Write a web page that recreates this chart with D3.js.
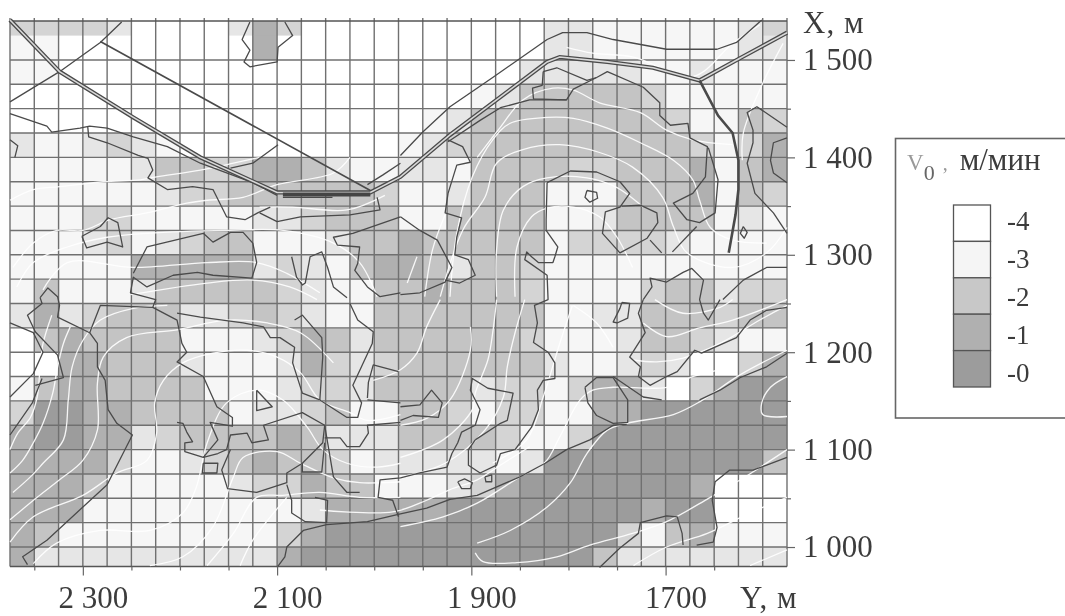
<!DOCTYPE html>
<html>
<head>
<meta charset="utf-8">
<script src="https://cdn.jsdelivr.net/npm/d3@7/dist/d3.min.js"></script>
<style>
  html, body { margin: 0; padding: 0; background: #fff; }
  svg { display: block; filter: blur(0.45px); }
  text { font-family: "Liberation Serif", serif; fill: #3c3c3c; }
</style>
</head>
<body>
<svg id="chart" width="1065" height="616"></svg>
<script>
// grid cell classes, top row first, west to east (Y falls left to right)
const cellRows = [
  "3333200002530000 0000002211111123",
  "1100000000500000 0000002211111122",
  "1100000000000000 0000022222112111",
  "0000000000000000 0001244444311111",
  "0000000000000000 0124444444431143",
  "2112321000000000 1234444444443135",
  "1111124433554211 2214444334445145",
  "1111112334444443 1124441114445143",
  "1113311111223444 1144441124444121",
  "1112312344111244 5444441333321111",
  "1111155555232145 5424431111111111",
  "1411124444432114 4544431111344233",
  "2523444223432114 4444441122444344",
  "0454444111235424 4444431112443211",
  "0055444211125323 4444442112320035",
  "1455444411123324 4442331355203566",
  "3665544441223411 4431331155666666",
  "5665523444454222 4444311366666666",
  "5555311234544312 2222126666666664",
  "5554111112335441 1123566666665000",
  "5551111111112555 5566666666566000",
  "5411111111135666 6666666663145111",
  "5222222222256666 6666666642222222"
];
const cellGreys = ["#ffffff", "#f6f6f6", "#e6e6e6", "#d4d4d4", "#c4c4c4", "#b0b0b0", "#9c9c9c"];

// cell edges in metres
const yEdges = d3.range(2375, 1574, -25);
const xEdges = [1540, 1525, 1500, 1475, 1450, 1425, 1400, 1375, 1350, 1325, 1300, 1275, 1250, 1225, 1200, 1175, 1150, 1125, 1100, 1075, 1050, 1025, 1000, 980];

// axis ticks
const yTicks = d3.range(2350, 1600, -50);
const xTicks = d3.range(1500, 950, -50);
const yLabels = { 2300: "2 300", 2100: "2 100", 1900: "1 900", 1700: "1700" };
const xLabels = { 1500: "1 500", 1400: "1 400", 1300: "1 300", 1200: "1 200", 1100: "1 100", 1000: "1 000" };

const legendLevels = ["-4", "-3", "-2", "-1", "-0"];
const legendGreys = ["#ffffff", "#f5f5f5", "#c8c8c8", "#b0b0b0", "#9c9c9c"];

// roads, [Y, X] in metres
const mainRoad = [[2375,1541],[2324,1488],[2248,1441],[2179,1400],[2100,1364],[2004,1364],[1973,1380],[1922,1423],[1874,1459],[1822,1498],[1809,1503],[1760,1498],[1713,1492],[1665,1479],[1623,1502],[1575,1528]];
const thickRoad = [[2094,1362],[2004,1362]];
const sideRoad = [[1665,1479],[1646,1443],[1631,1425],[1625,1397],[1625,1367],[1628,1341],[1635,1302]];
const upperRoad = [[2282,1519],[2004,1366]];

// speed class boundaries, [Y, X] in metres
const darkLines = [
  [[1973,1402],[1950,1426],[1922,1452],[1878,1482],[1822,1521],[1806,1528],[1781,1528],[1754,1521],[1699,1511],[1647,1511],[1627,1518],[1601,1541]],
  [[2260,1539],[2282,1518],[2324,1488],[2375,1457]],
  [[2375,1445],[2337,1432],[2332,1426],[2303,1430],[2293,1432],[2275,1430],[2248,1421],[2213,1411],[2179,1394],[2125,1374],[2100,1361]],
  [[2295,1432],[2294,1421],[2275,1415],[2243,1402],[2233,1399],[2228,1387],[2233,1379],[2213,1367],[2187,1370],[2166,1367],[2152,1339],[2133,1336],[2120,1343],[2107,1349]],
  [[2118,1343],[2100,1334],[2076,1339],[2025,1341],[1994,1346],[1997,1359]],
  [[2094,1359],[2043,1359]],
  [[2148,1389],[2125,1394],[2099,1413]],
  [[2007,1372],[1991,1382],[1973,1394]],
  [[2128,1539],[2136,1521],[2128,1510],[2134,1498],[2128,1493],[2100,1498],[2099,1513],[2084,1525],[2092,1539]],
  [[2375,1418],[2367,1412],[2370,1400]],
  [[2301,1319],[2282,1329],[2274,1338],[2264,1333],[2259,1308],[2275,1313],[2296,1307],[2301,1319]],
  [[2248,1281],[2234,1308],[2176,1322],[2166,1313],[2148,1323],[2135,1323],[2125,1312],[2121,1292],[2126,1276],[2166,1279],[2182,1282],[2207,1279],[2234,1267],[2248,1277],[2251,1261],[2225,1254],[2228,1246]],
  [[2085,1298],[2080,1277],[2074,1269],[2071,1271],[2066,1298],[2054,1303],[2048,1287],[2042,1267],[2028,1256]],
  [[1973,1339],[2022,1322],[2042,1318],[2038,1310],[2015,1308],[2017,1291],[2020,1284],[2007,1267],[1994,1257],[1973,1261]],
  [[1973,1339],[1953,1325],[1935,1315],[1920,1287],[1927,1272],[1953,1261],[1973,1259]],
  [[1924,1418],[1909,1411],[1901,1395],[1915,1392],[1924,1363],[1927,1343],[1910,1338],[1915,1318],[1917,1300],[1903,1295],[1896,1279],[1912,1271],[1927,1274]],
  [[1924,1416],[1891,1438],[1870,1451],[1840,1459],[1802,1459],[1795,1470],[1771,1482],[1760,1488],[1723,1472],[1706,1456],[1706,1443],[1695,1433],[1677,1435],[1675,1420],[1657,1411],[1659,1380],[1672,1363],[1692,1353],[1678,1336],[1665,1333],[1649,1343],[1646,1377],[1656,1410]],
  [[1826,1488],[1812,1492],[1781,1479],[1771,1482]],
  [[1826,1488],[1827,1474],[1837,1471],[1836,1460],[1802,1459]],
  [[1822,1374],[1798,1386],[1771,1385],[1747,1375],[1737,1363],[1747,1349],[1762,1344],[1765,1322],[1747,1302],[1719,1317],[1708,1333],[1709,1343],[1726,1351],[1745,1350]],
  [[1716,1315],[1704,1302]],
  [[1693,1303],[1668,1329]],
  [[1822,1374],[1823,1336],[1823,1325],[1811,1308],[1814,1298],[1816,1292],[1831,1292],[1838,1298],[1843,1303],[1845,1295],[1822,1279],[1821,1254],[1835,1248],[1832,1230],[1836,1210],[1821,1200],[1814,1189],[1814,1173],[1826,1171],[1832,1161],[1831,1141],[1838,1123],[1855,1100],[1870,1096],[1874,1084],[1891,1076],[1903,1084],[1903,1100],[1896,1110]],
  [[1896,1110],[1870,1127],[1863,1130],[1857,1158],[1883,1163],[1899,1173],[1901,1161],[1891,1141],[1896,1125],[1910,1118],[1914,1107],[1920,1096],[1925,1082],[1953,1076],[1973,1071],[1994,1069],[1996,1051],[1981,1048],[1975,1031]],
  [[2100,979],[2092,990],[2090,1000],[2073,1017],[2049,1023],[2007,1026],[1973,1034],[1946,1040],[1922,1049],[1894,1053],[1850,1072],[1824,1086],[1802,1100],[1778,1110],[1754,1125],[1740,1126]],
  [[1783,1164],[1771,1174],[1754,1174],[1739,1151],[1739,1128],[1754,1127],[1771,1135],[1780,1148],[1783,1164]],
  [[1754,1175],[1723,1154],[1704,1151]],
  [[1665,1151],[1644,1161],[1623,1174],[1596,1185],[1575,1199]],
  [[1723,1254],[1728,1240],[1721,1220],[1737,1195],[1726,1185],[1728,1175],[1716,1166],[1699,1175],[1688,1180],[1670,1202],[1663,1199],[1627,1215],[1613,1233],[1596,1243],[1575,1246]],
  [[1723,1254],[1714,1267],[1716,1276],[1699,1272],[1682,1282],[1673,1286],[1661,1274],[1665,1254],[1661,1240],[1656,1233],[1644,1254]],
  [[1641,1254],[1620,1274],[1596,1287],[1575,1287]],
  [[1575,1431],[1606,1452],[1616,1446],[1610,1428],[1610,1415],[1616,1394],[1608,1363],[1589,1343],[1575,1322]],
  [[1575,1420],[1589,1415],[1592,1397],[1589,1384],[1575,1374]],
  [[1781,1366],[1771,1364],[1770,1358],[1778,1354],[1783,1359],[1781,1366]],
  [[1620,1329],[1616,1323],[1619,1317],[1623,1322],[1620,1329]],
  [[1745,1251],[1737,1250],[1739,1235],[1750,1230],[1754,1231],[1747,1245],[1745,1251]],
  [[1768,979],[1747,999],[1728,1014],[1726,1025],[1699,1032],[1688,1031],[1683,1014],[1682,1002]],
  [[1668,1002],[1651,1005],[1647,1020],[1652,1048],[1649,1067],[1634,1079],[1610,1079],[1596,1084],[1575,1092]],
  [[1914,1067],[1907,1070],[1899,1066],[1901,1060],[1910,1060],[1914,1067]],
  [[1886,1072],[1879,1074],[1879,1067],[1885,1067],[1886,1072]],
  [[1973,1144],[1953,1146],[1941,1161],[1930,1148],[1934,1133],[1960,1135],[1973,1130]],
  [[2344,1256],[2336,1266],[2326,1257],[2324,1248],[2326,1236],[2293,1220],[2285,1209],[2285,1185],[2277,1171],[2274,1141],[2265,1127],[2249,1115],[2275,1064],[2337,1007],[2362,990],[2357,982]],
  [[2344,1256],[2342,1250],[2357,1238],[2349,1221],[2326,1197],[2320,1174],[2349,1166]],
  [[2375,1230],[2351,1220],[2341,1200],[2351,1178],[2375,1154]],
  [[2375,1115],[2352,1148],[2342,1173]],
  [[2293,1220],[2282,1248],[2228,1246],[2203,1233],[2198,1209],[2193,1200],[2203,1190],[2176,1175],[2162,1144],[2146,1133],[2146,1124],[2169,1128],[2161,1110],[2176,1092]],
  [[2203,1240],[2179,1236],[2135,1230],[2114,1226],[2107,1215],[2097,1215],[2082,1205],[2084,1189],[2074,1158],[2056,1151],[2028,1133],[2017,1133],[2013,1148],[2022,1166],[2002,1209],[2001,1221],[2017,1233],[2025,1250]],
  [[2082,1233],[2074,1238],[2054,1215],[2053,1195],[2056,1151]],
  [[2203,1128],[2197,1127],[2193,1118],[2187,1108],[2195,1107],[2195,1098],[2176,1092],[2161,1096],[2152,1100],[2148,1115],[2131,1117],[2126,1107],[2109,1110],[2114,1125],[2074,1138],[2051,1125],[2053,1107],[2074,1086],[2090,1076],[2090,1066],[2121,1056],[2151,1060],[2157,1079],[2148,1100]],
  [[2176,1086],[2161,1086],[2162,1076],[2177,1076],[2176,1086]],
  [[2121,1161],[2105,1144],[2121,1140],[2121,1161]],
  [[2051,1125],[2042,1072],[2028,1056],[2015,1056]],
  [[2074,1086],[2074,1077],[2054,1077],[2051,1107]],
  [[2090,1064],[2085,1048],[2085,1035],[2071,1026],[2049,1025],[2048,1048],[2061,1051]],
  [[2051,1112],[2035,1112],[2028,1103],[2015,1103],[2006,1117],[2007,1125],[1973,1128]],
  [[2007,1153],[2006,1169],[2001,1187],[1975,1180]],
  [[2007,1151],[1973,1148]]
];

// velocity isolines, [Y, X] in metres
const whiteLines = [
  [[2375,1100],[2367,1117],[2354,1133],[2347,1154],[2344,1185],[2341,1209],[2332,1238]],
  [[2375,1076],[2362,1089],[2351,1107],[2341,1127],[2331,1158],[2326,1185],[2320,1209],[2313,1226]],
  [[2372,1056],[2354,1072],[2341,1086],[2320,1110],[2315,1151],[2311,1185],[2300,1212],[2282,1233],[2248,1245],[2213,1248]],
  [[2375,1028],[2347,1051],[2324,1069],[2300,1089],[2285,1120],[2285,1168],[2279,1195],[2255,1215],[2203,1223],[2152,1233],[2110,1230],[2076,1220],[2042,1189]],
  [[2375,1005],[2351,1031],[2300,1053],[2265,1076],[2234,1089],[2224,1117],[2226,1148],[2217,1171],[2197,1189],[2166,1199],[2131,1202],[2100,1195],[2076,1179],[2056,1151],[2025,1138],[2007,1130],[1973,1136]],
  [[2351,983],[2327,1004],[2282,1017],[2231,1017],[2197,1035],[2183,1062],[2172,1107],[2152,1148],[2121,1161],[2094,1151],[2069,1123],[2053,1100],[2028,1086],[1997,1082],[1973,1086]],
  [[2231,981],[2197,990],[2166,1021],[2145,1072],[2135,1092],[2100,1098],[2076,1086],[2042,1071],[2015,1066],[1973,1067]],
  [[2172,981],[2145,1014],[2121,1051],[2094,1053],[2056,1056],[2015,1051],[1973,1051]],
  [[2138,981],[2125,1007],[2090,1051]],
  [[2056,1038],[1981,1036],[1946,1048],[1922,1059],[1894,1069],[1867,1086],[1840,1103]],
  [[1894,1004],[1860,1017],[1822,1041],[1798,1066],[1781,1096],[1760,1120],[1740,1127],[1692,1136],[1665,1149],[1623,1177],[1575,1202]],
  [[1896,994],[1888,985],[1853,984],[1812,990],[1778,1002],[1734,1014],[1699,1026],[1654,1051],[1623,1069],[1575,1100]],
  [[1973,1021],[1929,1031],[1894,1045],[1850,1072],[1824,1087],[1809,1113],[1788,1151],[1775,1161],[1754,1164],[1699,1164],[1672,1175],[1631,1185]],
  [[1733,981],[1699,1000],[1657,1014],[1613,1035],[1575,1051]],
  [[1613,981],[1575,997]],
  [[1932,1254],[1946,1226],[1956,1199],[1973,1182],[2001,1171]],
  [[1901,1226],[1901,1202],[1922,1151],[1946,1132],[1973,1125]],
  [[1874,1254],[1878,1220],[1883,1192],[1896,1158],[1899,1141],[1929,1110],[1973,1092]],
  [[1845,1254],[1855,1220],[1863,1185],[1867,1154],[1886,1120],[1927,1086],[1973,1072]],
  [[1796,1248],[1809,1209],[1826,1154],[1843,1110],[1878,1086]],
  [[1795,1248],[1771,1230],[1754,1205]],
  [[1723,1230],[1699,1216],[1665,1225],[1631,1233],[1575,1254]],
  [[1734,1192],[1709,1190],[1682,1194],[1644,1209],[1603,1233],[1575,1248]],
  [[1711,1254],[1682,1240],[1644,1246],[1631,1254]],
  [[1575,1175],[1592,1164],[1601,1148],[1600,1136],[1575,1134]],
  [[1894,1400],[1870,1431],[1847,1459],[1816,1471],[1795,1469],[1768,1456],[1726,1446],[1699,1428],[1672,1418],[1631,1413]],
  [[1922,1257],[1915,1322],[1899,1380],[1878,1418],[1860,1435],[1822,1441],[1795,1440],[1760,1430],[1726,1415],[1692,1397],[1672,1377],[1665,1356],[1654,1328],[1631,1315],[1596,1312]],
  [[1932,1257],[1909,1325],[1886,1359],[1874,1394],[1847,1408],[1809,1413],[1768,1405],[1734,1390],[1703,1359],[1692,1329],[1678,1302],[1631,1287],[1596,1302],[1575,1328]],
  [[1874,1257],[1874,1305],[1867,1346],[1847,1370],[1822,1379],[1781,1379],[1750,1369],[1723,1349]],
  [[1855,1257],[1853,1308],[1838,1339],[1822,1348],[1795,1349],[1768,1339],[1750,1318],[1734,1287]],
  [[1966,1271],[1956,1298]],
  [[1948,1257],[1940,1305],[1927,1341]],
  [[1802,1513],[1775,1507],[1733,1503],[1672,1483],[1631,1517],[1603,1536]],
  [[1621,1397],[1620,1425],[1600,1476],[1579,1517]],
  [[2375,1356],[2351,1367],[2324,1370],[2279,1375],[2241,1377],[2224,1380],[2179,1387],[2145,1394],[2118,1400]],
  [[2372,1287],[2351,1312],[2327,1325],[2300,1325],[2272,1336],[2234,1343],[2193,1353],[2172,1356],[2135,1359],[2100,1372],[2042,1384],[2025,1400]],
  [[2368,1267],[2351,1292],[2316,1308],[2275,1318],[2234,1322],[2152,1325],[2094,1325],[2042,1312],[2015,1292],[1997,1257]],
  [[2341,1264],[2316,1292],[2248,1287],[2172,1292],[2121,1292],[2090,1281],[2056,1261]],
  [[2251,1259],[2172,1271],[2125,1274],[2087,1267],[2059,1254]],
  [[2118,1349],[2084,1349],[2028,1346],[1989,1361]]
];

const x = d3.scaleLinear().domain([2375, 1575]).range([10, 787]);
const y = d3.scaleLinear().domain([1540, 980]).range([21, 566.5]);
const grey = d3.scaleOrdinal().domain(d3.range(cellGreys.length)).range(cellGreys);

const svg = d3.select("#chart");

// cells
const cells = [];
cellRows.forEach((row, r) => {
  row.replace(" ", "").split("").forEach((v, c) => {
    cells.push({ r, c, v: +v });
  });
});
svg.append("g").selectAll("rect")
  .data(cells)
  .enter()
  .append("rect")
  .attr("x", d => x(yEdges[d.c]))
  .attr("y", d => y(xEdges[d.r]))
  .attr("width", d => x(yEdges[d.c + 1]) - x(yEdges[d.c]) + 0.5)
  .attr("height", d => y(xEdges[d.r + 1]) - y(xEdges[d.r]) + 0.5)
  .attr("fill", d => grey(d.v));

// grid, the 1525 row has no line in the original
const gridColor = "#707070";
svg.append("g").selectAll("line")
  .data(yEdges)
  .enter()
  .append("line")
  .attr("x1", d => x(d)).attr("x2", d => x(d))
  .attr("y1", y(1540) - 3).attr("y2", y(980))
  .attr("stroke", gridColor)
  .attr("stroke-width", 1.4);
svg.append("g").selectAll("line")
  .data(xEdges.filter(d => d !== 1525))
  .enter()
  .append("line")
  .attr("x1", x(2375)).attr("x2", x(1575))
  .attr("y1", d => y(d)).attr("y2", d => y(d))
  .attr("stroke", d => (d === 1540 || d === 980) ? "#555" : gridColor)
  .attr("stroke-width", 1.4);

const line = d3.line().x(d => x(d[0])).y(d => y(d[1]));
const smooth = d3.line().x(d => x(d[0])).y(d => y(d[1])).curve(d3.curveCatmullRom);

// white isolines
svg.append("g").selectAll("path")
  .data(whiteLines)
  .enter()
  .append("path")
  .attr("d", smooth)
  .attr("fill", "none")
  .attr("stroke", "#fff")
  .attr("stroke-opacity", 0.9)
  .attr("stroke-width", 1.3);

// class boundaries
svg.append("g").selectAll("path")
  .data(darkLines)
  .enter()
  .append("path")
  .attr("d", line)
  .attr("fill", "none")
  .attr("stroke", "#4a4a4a")
  .attr("stroke-width", 1.3)
  .attr("stroke-linejoin", "round");

// roads: dark casing with a pale core gives the double line
const roads = svg.append("g").attr("fill", "none");
roads.append("path").datum(mainRoad).attr("d", line).attr("stroke", "#4a4a4a").attr("stroke-width", 4.2);
roads.append("path").datum(mainRoad).attr("d", line).attr("stroke", "#d8d8d8").attr("stroke-width", 1.6);
roads.append("path").datum(thickRoad).attr("d", line).attr("stroke", "#444").attr("stroke-width", 4);
roads.append("path").datum(sideRoad).attr("d", line).attr("stroke", "#4a4a4a").attr("stroke-width", 2.6);
roads.append("path").datum(upperRoad).attr("d", line).attr("stroke", "#4a4a4a").attr("stroke-width", 1.6);

// axes
const bottomAxis = d3.axisBottom(x)
  .tickValues(yTicks)
  .tickFormat(d => yLabels[d] || "")
  .tickSizeInner(6)
  .tickPadding(13);
const bottomG = svg.append("g").attr("transform", `translate(0,${y(980)})`).call(bottomAxis);
bottomG.select(".domain").remove();
bottomG.selectAll("line")
  .attr("stroke", "#666")
  .attr("stroke-width", 1.2)
  .attr("y2", d => (d / 100) % 2 === 1 ? 9 : 4);
bottomG.selectAll("text")
  .attr("font-size", 31)
  .attr("dx", 10)
  .attr("font-family", "Liberation Serif, serif")
  .attr("fill", "#3c3c3c");

const rightAxis = d3.axisRight(y)
  .tickValues(xTicks)
  .tickFormat(d => xLabels[d] || "")
  .tickSizeInner(8)
  .tickPadding(8);
const rightG = svg.append("g").attr("transform", `translate(${x(1575)},0)`).call(rightAxis);
rightG.select(".domain").remove();
rightG.selectAll("line")
  .attr("stroke", "#666")
  .attr("stroke-width", 1.2)
  .attr("x2", d => d % 100 === 0 ? 8 : 4);
rightG.selectAll("text")
  .attr("font-size", 31)
  .attr("font-family", "Liberation Serif, serif")
  .attr("fill", "#3c3c3c");

svg.append("text").attr("x", 803).attr("y", 33).attr("font-size", 31).attr("letter-spacing", 1).text("X, м");
svg.append("text").attr("x", 740).attr("y", 608).attr("font-size", 31).attr("letter-spacing", 1).text("Y, м");

// legend
const legend = svg.append("g");
legend.append("rect")
  .attr("x", 895.5).attr("y", 138.5)
  .attr("width", 175).attr("height", 279.5)
  .attr("fill", "#fff")
  .attr("stroke", "#666")
  .attr("stroke-width", 1.6);

const title = legend.append("text").attr("x", 907).attr("y", 170);
title.append("tspan").attr("font-size", 23).attr("fill", "#999").text("V");
title.append("tspan").attr("font-size", 22).attr("dy", 10).attr("fill", "#666").text("0");
title.append("tspan").attr("font-size", 20).attr("dy", -10).attr("dx", 8).attr("fill", "#999").text(",");
title.append("tspan").attr("font-size", 31).attr("dx", 12).text("м/мин");

const legendY = d3.scaleBand().domain(legendLevels).range([205, 387]);
const legendText = d3.scalePoint().domain(legendLevels).range([230, 382]);
legend.selectAll("rect.swatch")
  .data(legendLevels)
  .enter()
  .append("rect")
  .attr("class", "swatch")
  .attr("x", 953.5)
  .attr("y", d => legendY(d))
  .attr("width", 37)
  .attr("height", legendY.bandwidth())
  .attr("fill", (d, i) => legendGreys[i])
  .attr("stroke", "#555")
  .attr("stroke-width", 1.3);
legend.selectAll("text.level")
  .data(legendLevels)
  .enter()
  .append("text")
  .attr("class", "level")
  .attr("x", 1007)
  .attr("y", d => legendText(d))
  .attr("font-size", 27)
  .text(d => d);
</script>
</body>
</html>
